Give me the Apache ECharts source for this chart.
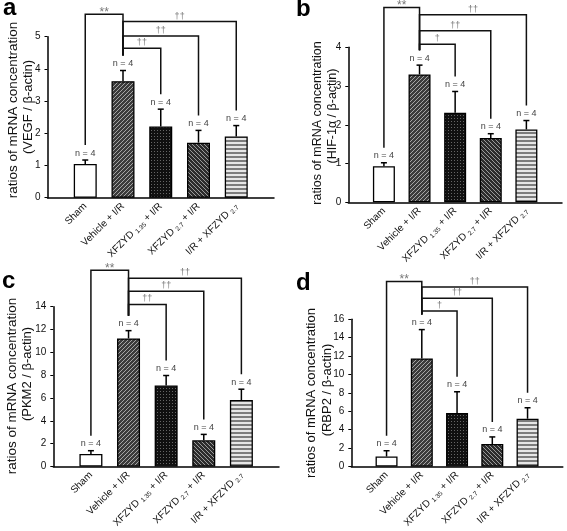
<!DOCTYPE html>
<html><head><meta charset="utf-8">
<script src="https://cdn.jsdelivr.net/npm/echarts@6/dist/echarts.min.js"></script>
<style>html,body{margin:0;padding:0;background:#fff}#c{width:567px;height:531px}</style>
</head><body><div id="c"></div>
<script>
// ---------- data ----------
const categories = ['Sham', 'Vehicle + I/R', 'XFZYD_1.35 + I/R', 'XFZYD_2.7 + I/R', 'I/R + XFZYD_2.7'];
const groupN = [4, 4, 4, 4, 4];

const vegfMean = [1.05, 3.62, 2.21, 1.71, 1.90];
const vegfSEM  = [0.12, 0.33, 0.54, 0.38, 0.34];
const hifMean  = [0.93, 3.30, 2.31, 1.66, 1.88];
const hifSEM   = [0.09, 0.24, 0.55, 0.11, 0.23];
const pkmMean  = [1.09, 11.22, 7.09, 2.29, 5.82];
const pkmSEM   = [0.29, 0.68, 0.88, 0.52, 0.95];
const rbpMean  = [1.08, 11.75, 5.82, 2.44, 5.19];
const rbpSEM   = [0.63, 3.13, 2.30, 0.77, 1.19];

const yTicksA = [0, 1, 2, 3, 4, 5];
const yTicksB = [0, 1, 2, 3, 4];
const yTicksC = [0, 2, 4, 6, 8, 10, 12, 14];
const yTicksD = [0, 2, 4, 6, 8, 10, 12, 14, 16];

const yTitleA = ['ratios of mRNA concentration', '(VEGF / β-actin)'];
const yTitleB = ['ratios of mRNA concentration', '(HIF-1α / β-actin)'];
const yTitleC = ['ratios of mRNA concentration', '(PKM2 / β-actin)'];
const yTitleD = ['ratios of mRNA concentration', '(RBP2 / β-actin)'];

// significance comparisons: [group index, group index], mark
const sigPairsA = [[0, 1], [1, 4], [1, 3], [1, 2]];
const sigMarksA = ['**', '††', '††', '††'];
const sigPairsB = [[0, 1], [1, 4], [1, 3], [1, 2]];
const sigMarksB = ['**', '††', '††', '†'];
const sigPairsC = [[0, 1], [1, 4], [1, 3], [1, 2]];
const sigMarksC = ['**', '††', '††', '††'];
const sigPairsD = [[0, 1], [1, 4], [1, 3], [1, 2]];
const sigMarksD = ['**', '††', '††', '†'];

// ---------- layout (positions / styles) ----------
const FONT = '"Liberation Sans", Arial, Helvetica, sans-serif';
const layouts = [
  {letter: 'a', lx: 3, ly: 17, left: 47.5, top: 36.7, width: 226.5, height: 161, barWidth: 23,
   t1: [13.5, 110, 13.5], t2: [28, 107, 13], bracketLevels: [5.70, 5.47, 5.02, 4.64]},
  {letter: 'b', lx: 296, ly: 18, left: 348.3, top: 47.3, width: 213.7, height: 155, barWidth: 22,
   t1: [318, 123, 12.5], t2: [333, 116, 12.5], bracketLevels: [5.03, 4.84, 4.43, 4.08]},
  {letter: 'c', lx: 2, ly: 290, left: 53.3, top: 306.7, width: 225.7, height: 162.6, barWidth: 23,
   t1: [12, 386, 13.5], t2: [27, 374, 13], bracketLevels: [17.2, 16.5, 15.35, 14.2]},
  {letter: 'd', lx: 296, ly: 292, left: 351.3, top: 319.3, width: 211.5, height: 153, barWidth: 22,
   t1: [311, 393, 13], t2: [327, 390, 13], bracketLevels: [20.1, 19.5, 18.3, 16.9]}
];

const panels = [
  {mean: vegfMean, sem: vegfSEM, ticks: yTicksA, title: yTitleA, pairs: sigPairsA, marks: sigMarksA},
  {mean: hifMean, sem: hifSEM, ticks: yTicksB, title: yTitleB, pairs: sigPairsB, marks: sigMarksB},
  {mean: pkmMean, sem: pkmSEM, ticks: yTicksC, title: yTitleC, pairs: sigPairsC, marks: sigMarksC},
  {mean: rbpMean, sem: rbpSEM, ticks: yTicksD, title: yTitleD, pairs: sigPairsD, marks: sigMarksD}
];

// ---------- fill patterns ----------
function tile(w, h, bg, fg, fn) {
  const c = document.createElement('canvas'); c.width = w; c.height = h;
  const ctx = c.getContext('2d'); ctx.fillStyle = bg; ctx.fillRect(0, 0, w, h);
  ctx.fillStyle = fg;
  for (let y = 0; y < h; y++) for (let x = 0; x < w; x++) if (fn(x, y)) ctx.fillRect(x, y, 1, 1);
  return {image: c, repeat: 'repeat'};
}
const fills = [
  '#ffffff',
  tile(4, 4, '#3b3b3b', '#a5a5a5', (x, y) => (x + y) % 4 === 3),
  tile(3, 3, '#101010', '#666666', (x, y) => x === 1 && y === 1),
  tile(4, 4, '#2c2c2c', '#9a9a9a', (x, y) => ((x - y) % 4 + 4) % 4 === 0),
  tile(1, 4, '#e6e6e6', '#7c7c7c', (x, y) => y < 2)
];

function catLabel(v) {
  const i = Math.round(v) - 1;
  if (i < 0 || i >= categories.length || Math.abs(v - Math.round(v)) > 1e-6) return '';
  return categories[i].replace(/_(\S+)/, ' {s|$1}');
}

const option = {animation: false, grid: [], xAxis: [], yAxis: [], series: [], graphic: []};

panels.forEach((p, k) => {
  const L = layouts[k];
  option.grid.push({left: L.left, top: L.top, width: L.width, height: L.height, containLabel: false});
  option.xAxis.push({
    type: 'value', gridIndex: k, min: 0, max: categories.length + 1, interval: 1,
    splitLine: {show: false}, axisTick: {show: false},
    axisLine: {lineStyle: {color: '#000', width: 1.5}},
    axisLabel: {
      rotate: 45, fontSize: 10, color: '#111', fontFamily: FONT, margin: 7, lineHeight: 12,
      formatter: catLabel,
      rich: {s: {fontSize: 6.5, fontFamily: FONT, color: '#111', verticalAlign: 'bottom', lineHeight: 6}}
    }
  });
  option.yAxis.push({
    type: 'value', gridIndex: k, min: p.ticks[0], max: p.ticks[p.ticks.length - 1],
    interval: p.ticks[1] - p.ticks[0],
    splitLine: {show: false},
    axisLine: {show: true, lineStyle: {color: '#000', width: 1.5}},
    axisTick: {show: true, length: 3, lineStyle: {color: '#000', width: 1}},
    axisLabel: {fontSize: 10, color: '#111', fontFamily: FONT, margin: 7}
  });
  // bars
  option.series.push({
    type: 'bar', xAxisIndex: k, yAxisIndex: k, barWidth: L.barWidth,
    data: p.mean.map((v, i) => ({value: [i + 1, v], itemStyle: {color: fills[i]}})),
    itemStyle: {borderColor: '#000', borderWidth: 1.3}, z: 2
  });
  // error bars + n labels
  option.series.push({
    type: 'custom', xAxisIndex: k, yAxisIndex: k, z: 3, clip: false,
    encode: {x: 0, y: 1},
    data: p.mean.map((v, i) => [i + 1, v, p.sem[i], groupN[i]]),
    renderItem: (params, api) => {
      const x = api.value(0), m = api.value(1), e = api.value(2);
      const b = api.coord([x, m]), t = api.coord([x, m + e]);
      const cap = 3;
      return {type: 'group', children: [
        {type: 'line', shape: {x1: b[0], y1: b[1], x2: t[0], y2: t[1]}, style: {stroke: '#000', lineWidth: 1.5}},
        {type: 'line', shape: {x1: t[0] - cap, y1: t[1], x2: t[0] + cap, y2: t[1]}, style: {stroke: '#000', lineWidth: 1.5}},
        {type: 'text', x: t[0], y: t[1] - 7, style: {text: 'n = ' + api.value(3), align: 'center', verticalAlign: 'middle',
          fontSize: 9, fontFamily: FONT, fill: '#444'}}
      ]};
    }
  });
  // significance brackets
  option.series.push({
    type: 'custom', xAxisIndex: k, yAxisIndex: k, z: 4, clip: false,
    encode: {x: [0, 1], y: 2},
    data: p.pairs.map((pr, i) => [pr[0] + 1, pr[1] + 1, L.bracketLevels[i]]),
    renderItem: (params, api) => {
      const i = params.dataIndex;
      const a = api.value(0), c = api.value(1), lev = api.value(2);
      const y = api.coord([0, lev])[1];
      const xa = api.coord([a, 0])[0], xc = api.coord([c, 0])[0];
      const ya = api.coord([0, p.mean[a - 1] + p.sem[a - 1]])[1] - 15;
      const yc = api.coord([0, p.mean[c - 1] + p.sem[c - 1]])[1] - 15;
      const star = p.marks[i].indexOf('*') >= 0;
      return {type: 'group', children: [
        {type: 'polyline', shape: {points: [[xa, ya], [xa, y], [xc, y], [xc, yc]]},
         style: {stroke: '#111', lineWidth: 1.5, fill: null}},
        {type: 'text', x: (xa + xc) / 2, y: star ? y - 1.5 : y - 5.5,
         style: {text: p.marks[i], align: 'center', verticalAlign: 'middle',
          fontSize: star ? 12 : 9, fontFamily: FONT, fill: '#777'}}
      ]};
    }
  });
  // panel letter and y titles
  option.graphic.push({type: 'text', x: L.lx, y: L.ly - 8.4,
    style: {text: L.letter, align: 'left', verticalAlign: 'middle', fontSize: 24, fontWeight: 'bold', fontFamily: FONT, fill: '#000'}});
  option.graphic.push({type: 'text', x: L.t1[0], y: L.t1[1], rotation: Math.PI / 2,
    style: {text: p.title[0], align: 'center', verticalAlign: 'middle', fontSize: L.t1[2], fontFamily: FONT, fill: '#111'}});
  option.graphic.push({type: 'text', x: L.t2[0], y: L.t2[1], rotation: Math.PI / 2,
    style: {text: p.title[1], align: 'center', verticalAlign: 'middle', fontSize: L.t2[2], fontFamily: FONT, fill: '#111'}});
});

const chart = echarts.init(document.getElementById('c'), null, {renderer: 'canvas'});
chart.setOption(option);
</script>
</body></html>
